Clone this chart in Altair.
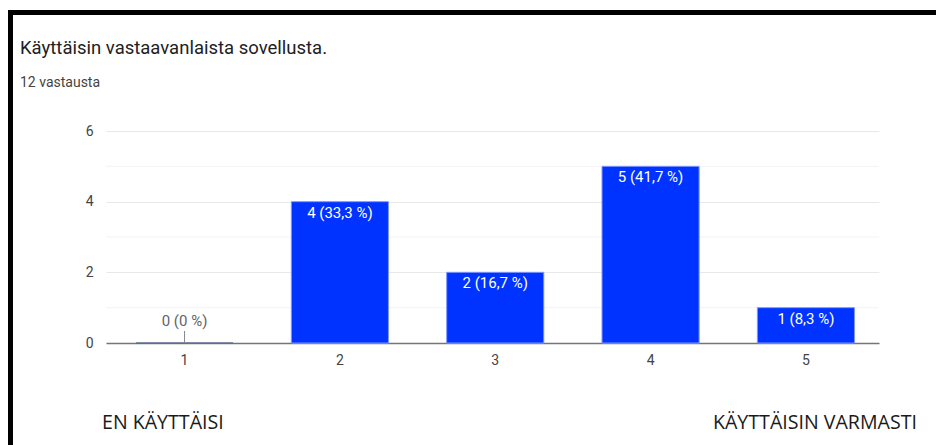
import altair as alt
import pandas as pd

categories = ["1", "2", "3", "4", "5"]
counts = [0, 4, 2, 5, 1]
total = 12
major_ticks = [0, 2, 4, 6]
minor_ticks = [1, 3, 5]
title_text = "Käyttäisin vastaavanlaista sovellusta."
subtitle_text = "12 vastausta"
left_note = "EN KÄYTTÄISI"
right_note = "KÄYTTÄISIN VARMASTI"


def pct_label(c):
    p = round(c / total * 100, 1)
    s = f"{p:.1f}".replace(".", ",")
    if s.endswith(",0"):
        s = s[:-2]
    return f"{c} ({s} %)"


df = pd.DataFrame({"cat": categories, "count": counts,
                   "label": [pct_label(c) for c in counts]})
minor_df = pd.DataFrame({"v": minor_ticks})

W, H = 773, 212
PL, PT = 106, 131
FONT = "Roboto"

x_enc = alt.X("cat:N", sort=categories,
              scale=alt.Scale(paddingInner=0.375, paddingOuter=0.1755, align=0.55),
              axis=alt.Axis(title=None, labelAngle=0, domain=True, domainColor="#757575",
                            domainWidth=1.5, ticks=False, labelColor="#444444",
                            labelFont=FONT, labelFontSize=14, labelPadding=10, grid=False))
y_enc = alt.Y("count:Q", scale=alt.Scale(domain=[0, 6], nice=False),
              axis=alt.Axis(title=None, values=major_ticks, domain=False, ticks=False,
                            labelColor="#444444", labelFont=FONT, labelFontSize=14,
                            labelPadding=13, gridColor="#e8e8e8", gridWidth=1))

minor = alt.Chart(minor_df).mark_rule(color="#f3f3f3", strokeWidth=1).encode(
    y=alt.Y("v:Q", scale=alt.Scale(domain=[0, 6], nice=False)),
    x=alt.value(0), x2=alt.value(W))

base = alt.Chart(df)
bars = base.transform_filter("datum.count > 0").mark_bar(
    color="#0033ff", stroke="#7d96ff", strokeWidth=1).encode(x=x_enc, y=y_enc)
zero_bar = base.transform_filter("datum.count == 0").mark_tick(
    thickness=2, size=97, color="#5d6a94").encode(x=x_enc, y=y_enc)
zero_rule = base.transform_filter("datum.count == 0").mark_rule(
    color="#888888", strokeWidth=1).encode(x=x_enc, y=y_enc, y2=alt.value(H - 12))
labels = base.transform_filter("datum.count > 0").mark_text(
    baseline="top", dy=4, color="white", font=FONT, fontSize=15).encode(
    x=x_enc, y=y_enc, text="label:N")
zero_label = base.transform_filter("datum.count == 0").mark_text(
    baseline="bottom", dy=-14, color="#5f6368", font=FONT, fontSize=15).encode(
    x=x_enc, y=y_enc, text="label:N")


def one(text):
    return alt.Chart(pd.DataFrame({"t": [text]}))


title = one(title_text).mark_text(align="left", baseline="alphabetic", font=FONT,
                                  fontSize=18.5, color="#202124").encode(
    x=alt.value(20 - PL), y=alt.value(54 - PT), text="t:N")
subtitle = one(subtitle_text).mark_text(align="left", baseline="alphabetic", font=FONT,
                                        fontSize=14, color="#444444").encode(
    x=alt.value(20 - PL), y=alt.value(87 - PT), text="t:N")
note_l = one(left_note).mark_text(align="left", baseline="alphabetic",
                                  font="Open Sans", fontSize=19.6,
                                  color="#1a1a1a").encode(
    x=alt.value(102 - PL), y=alt.value(429 - PT), text="t:N")
note_r = one(right_note).mark_text(align="right", baseline="alphabetic",
                                   font="Open Sans", fontSize=19.6,
                                   color="#1a1a1a").encode(
    x=alt.value(917 - PL), y=alt.value(429 - PT), text="t:N")

border_top = one("").mark_rule(color="black", strokeWidth=5).encode(
    x=alt.value(8 - PL), x2=alt.value(936 - PL), y=alt.value(12.5 - PT))
border_left = one("").mark_rule(color="black", strokeWidth=5).encode(
    x=alt.value(10.5 - PL), y=alt.value(10 - PT), y2=alt.value(445 - PT))

chart = alt.layer(minor, bars, zero_bar, zero_rule, labels, zero_label,
                  title, subtitle, note_l, note_r, border_top, border_left).properties(
    width=W, height=H,
    padding={"left": PL, "top": PT, "right": 936 - PL - W, "bottom": 445 - PT - H},
    autosize=alt.AutoSizeParams(type="none"),
    background="white",
).configure_view(stroke=None)

chart.save("out.html", embed_options={"renderer": "svg", "actions": False})
